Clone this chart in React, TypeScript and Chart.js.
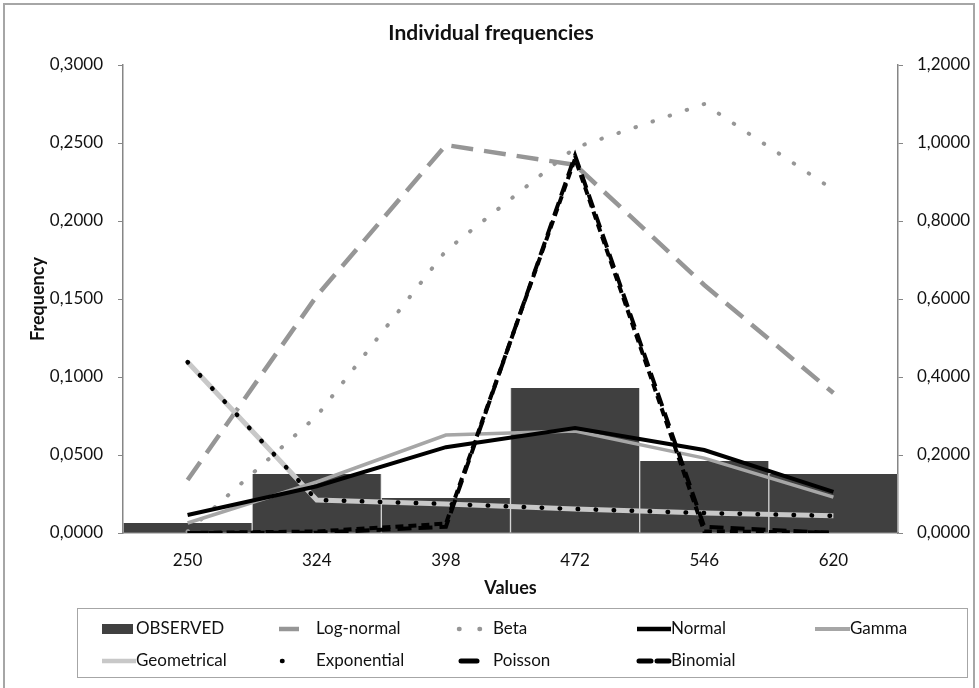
import React, { useEffect, useRef } from "react";
import { Chart, registerables } from "chart.js";

Chart.register(...registerables);

const categories = ["250", "324", "398", "472", "546", "620"];
const observed = [0.0064, 0.0378, 0.0224, 0.0929, 0.0462, 0.0378];
const logNormal = [0.034, 0.152, 0.2487, 0.236, 0.159, 0.0897];
const beta = [0.001, 0.075, 0.181, 0.247, 0.275, 0.22];
const normal = [0.0115, 0.03, 0.055, 0.0673, 0.0532, 0.0263];
const gamma = [0.0064, 0.0327, 0.0628, 0.0654, 0.048, 0.023];
const geometrical = [0.1096, 0.0212, 0.0186, 0.0154, 0.0128, 0.011];
const exponential = [0.1096, 0.0212, 0.0186, 0.0154, 0.0128, 0.011];
const poisson = [0, 0.0002, 0.004, 0.242, 0.004, 0];
const binomial = [0, 0.001, 0.006, 0.24, 0.001, 0.0003];

const FONT = "Lato, 'Open Sans', sans-serif";
const fmt = (v: number) => Number(v).toFixed(4).replace(".", ",");

const decorPlugin = {
  id: "decor",
  beforeDraw(chart: any) {
    const ctx = chart.ctx;
    ctx.save();
    ctx.fillStyle = "#ffffff";
    ctx.fillRect(0, 0, chart.width, chart.height);
    ctx.strokeStyle = "#a6a6a6";
    ctx.lineWidth = 2;
    ctx.strokeRect(4, 4, 970, 700);
    ctx.fillStyle = "#111";
    ctx.font = `bold 21px ${FONT}`;
    ctx.textAlign = "center";
    ctx.textBaseline = "middle";
    ctx.fillText("Individual frequencies", 491, 33);
    ctx.restore();
  },
  afterDraw(chart: any) {
    const ctx = chart.ctx;
    ctx.save();
    ctx.strokeStyle = "#a6a6a6";
    ctx.lineWidth = 1;
    ctx.strokeRect(77.5, 608.5, 890, 69);
    const rows = [629, 661];
    const items: any[] = [
      { name: "OBSERVED", row: 0, tx: 136, kind: "rect", x0: 102, x1: 133, color: "#404040" },
      { name: "Log-normal", row: 0, tx: 316, kind: "line", x0: 279, x1: 299, color: "#969696", w: 4.5, dash: [] },
      { name: "Beta", row: 0, tx: 493, kind: "line", x0: 459, x1: 480, color: "#969696", w: 4.5, dash: [0.5, 20], cap: "round" },
      { name: "Normal", row: 0, tx: 671, kind: "line", x0: 637, x1: 671, color: "#000000", w: 4.5, dash: [] },
      { name: "Gamma", row: 0, tx: 850, kind: "line", x0: 815, x1: 850, color: "#a6a6a6", w: 4, dash: [] },
      { name: "Geometrical", row: 1, tx: 136, kind: "line", x0: 102, x1: 136, color: "#c8c8c8", w: 4.5, dash: [] },
      { name: "Exponential", row: 1, tx: 316, kind: "line", x0: 282, x1: 301, color: "#000000", w: 4.5, dash: [0.5, 18.5], cap: "round" },
      { name: "Poisson", row: 1, tx: 493, kind: "line", x0: 461, x1: 477, color: "#000000", w: 5, dash: [], cap: "round" },
      { name: "Binomial", row: 1, tx: 671, kind: "line", x0: 639, x1: 669, color: "#000000", w: 5, dash: [12, 6], cap: "round" },
    ];
    for (const it of items) {
      const y = rows[it.row];
      if (it.kind === "rect") {
        ctx.fillStyle = it.color;
        ctx.fillRect(it.x0, y - 5, it.x1 - it.x0, 10);
      } else {
        ctx.beginPath();
        ctx.strokeStyle = it.color;
        ctx.lineWidth = it.w;
        ctx.lineCap = it.cap || "butt";
        ctx.setLineDash(it.dash);
        ctx.moveTo(it.x0, y);
        ctx.lineTo(it.x1, y);
        ctx.stroke();
        ctx.setLineDash([]);
      }
      ctx.fillStyle = "#111";
      ctx.font = `17px ${FONT}`;
      ctx.textAlign = "left";
      ctx.textBaseline = "middle";
      ctx.fillText(it.name, it.tx, y);
    }
    ctx.restore();
  },
};

export default function App() {
  const ref = useRef<HTMLCanvasElement | null>(null);
  useEffect(() => {
    if (!ref.current) return;
    const line = (label: string, data: number[], color: string, width: number, dash: number[], extra: any = {}) => ({
      type: "line",
      label,
      data,
      borderColor: color,
      backgroundColor: color,
      borderWidth: width,
      borderDash: dash,
      pointRadius: 0,
      tension: 0,
      fill: false,
      yAxisID: "y",
      order: 1,
      ...extra,
    });
    const chart = new Chart(ref.current, {
      type: "bar",
      data: {
        labels: categories,
        datasets: [
          {
            type: "bar",
            label: "OBSERVED",
            data: observed,
            backgroundColor: "#404040",
            borderColor: "#d0d0d0",
            borderWidth: { left: 1, right: 1, top: 0, bottom: 0 },
            categoryPercentage: 1,
            barPercentage: 1,
            yAxisID: "y",
            order: 10,
          } as any,
          line("Exponential", exponential, "#000000", 4.5, [0.5, 17.5], { borderCapStyle: "round", order: 0 }),
          line("Binomial", binomial, "#000000", 4, [8, 5], { order: 0 }),
          line("Poisson", poisson, "#000000", 4, [14, 7], { order: 0 }),
          line("Normal", normal, "#000000", 4, [], { order: 1 }),
          line("Gamma", gamma, "#a6a6a6", 3.5, [], { order: 2 }),
          line("Geometrical", geometrical, "#c8c8c8", 5, [], { order: 2 }),
          line("Beta", beta, "#969696", 4, [0.5, 17.5], { borderCapStyle: "round", order: 3 }),
          line("Log-normal", logNormal, "#969696", 4.5, [22, 11], { order: 3 }),
        ] as any,
      },
      options: {
        animation: false,
        responsive: false,
        layout: { padding: { top: 65, left: 0, right: 0, bottom: 85 } },
        plugins: {
          legend: { display: false },
          title: { display: false },
          tooltip: { enabled: false },
        },
        scales: {
          x: {
            type: "category",
            offset: true,
            grid: { display: false, drawTicks: false },
            border: { display: true, color: "#868686", width: 1.5 },
            ticks: { color: "#111", font: { family: FONT, size: 17 }, padding: 17 },
            title: {
              display: true,
              text: "Values",
              color: "#111",
              font: { family: FONT, size: 18, weight: "bold" },
              padding: { top: 0, bottom: 4 },
            },
            afterFit: (s: any) => {
              s.height = 70;
            },
          },
          y: {
            type: "linear",
            position: "left",
            min: 0,
            max: 0.3,
            ticks: {
              stepSize: 0.05,
              color: "#111",
              font: { family: FONT, size: 17 },
              padding: 15,
              callback: (v: any) => fmt(v),
            },
            grid: { display: true, drawOnChartArea: false, drawTicks: true, tickLength: 5, color: "#868686" },
            border: { display: true, color: "#868686", width: 1.5 },
            title: {
              display: true,
              text: "Frequency",
              color: "#111",
              font: { family: FONT, size: 18, weight: "bold" },
              padding: { top: 27, bottom: 0 },
            },
            afterFit: (s: any) => {
              s.width = 123;
            },
          },
          y1: {
            type: "linear",
            position: "right",
            min: 0,
            max: 1.2,
            ticks: {
              stepSize: 0.2,
              color: "#111",
              font: { family: FONT, size: 17 },
              padding: 14,
              callback: (v: any) => fmt(v),
            },
            grid: { display: true, drawOnChartArea: false, drawTicks: true, tickLength: 5, color: "#868686" },
            border: { display: true, color: "#868686", width: 1.5 },
            afterFit: (s: any) => {
              s.width = 81;
            },
          },
        },
      } as any,
      plugins: [decorPlugin as any],
    });
    return () => chart.destroy();
  }, []);
  return (
    <div style={{ position: "fixed", left: 0, top: 0, width: 979, height: 688, background: "#fff" }}>
      <canvas ref={ref} width={979} height={688} style={{ display: "block", width: 979, height: 688 }} />
    </div>
  );
}
